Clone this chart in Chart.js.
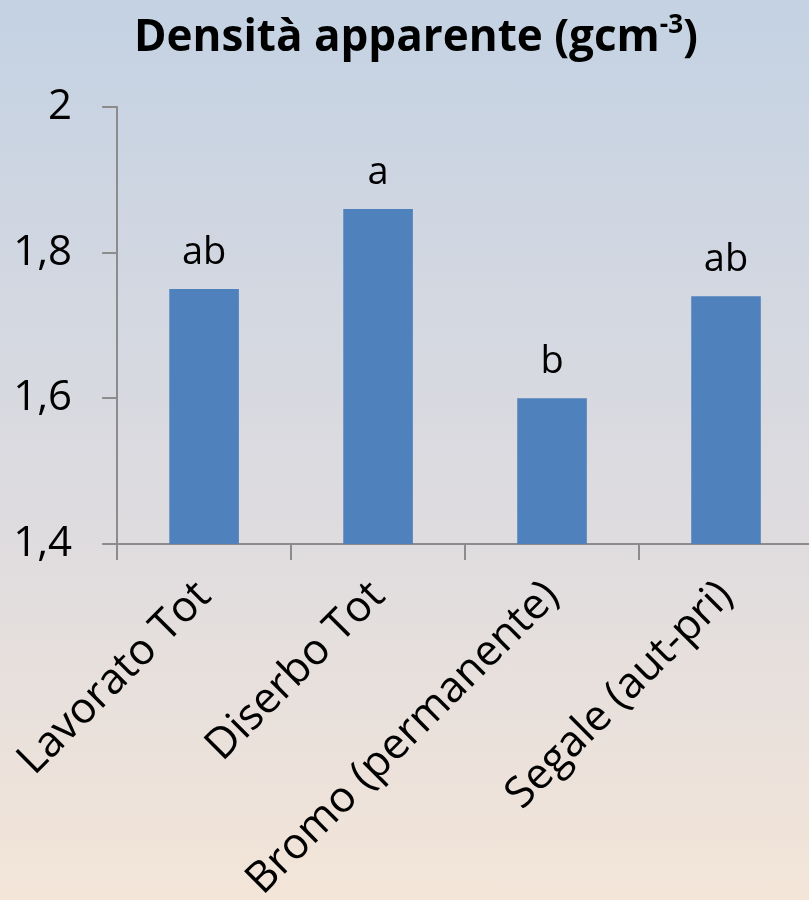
<!DOCTYPE html>
<html lang="it">
  <head>
    <meta charset="UTF-8" />
    <title>Densità apparente</title>
    <script src="https://cdn.jsdelivr.net/npm/chart.js"></script>
    <style>
      html, body { margin: 0; padding: 0; overflow: hidden; }
      body {
        width: 809px;
        height: 900px;
        background: linear-gradient(to bottom, #c4d2e3 0%, #dfdcdf 60%, #f3e5d8 100%);
        font-family: "Open Sans", sans-serif;
      }
      #wrap { position: relative; width: 813px; height: 900px; }
      #title {
        position: absolute;
        left: 0; width: 832px; top: 4px;
        text-align: center;
        font-weight: bold;
        font-size: 44px;
        color: #000;
        line-height: 60px;
      }
      #title sup { font-size: 26px; line-height: 0; vertical-align: 18px; }
    </style>
  </head>
  <body>
    <div id="wrap">
      <div id="title">Densità apparente (gcm<sup>-3</sup>)</div>
      <canvas id="myChart" width="813" height="900"></canvas>
    </div>
    <script>
      var categories = ["Lavorato Tot", "Diserbo Tot", "Bromo (permanente)", "Segale (aut-pri)"];
      var values = [1.75, 1.86, 1.6, 1.74];
      var letters = ["ab", "a", "b", "ab"];
      var yTicks = [1.4, 1.6, 1.8, 2];

      // lettere di significatività sopra le barre
      var letterPlugin = {
        id: "letters",
        afterDatasetsDraw: function (chart) {
          var ctx = chart.ctx;
          var meta = chart.getDatasetMeta(0);
          ctx.save();
          ctx.font = "38px 'Open Sans'";
          ctx.fillStyle = "#000";
          ctx.textAlign = "center";
          ctx.textBaseline = "alphabetic";
          meta.data.forEach(function (bar, i) {
            ctx.fillText(letters[i], bar.x, bar.y - 25);
          });
          ctx.restore();
        },
      };

      var ctx = document.getElementById("myChart").getContext("2d");
      var myChart = new Chart(ctx, {
        type: "bar",
        data: {
          labels: categories,
          datasets: [
            {
              data: values,
              backgroundColor: "#4f81bd",
              borderWidth: 0,
              categoryPercentage: 1,
              barPercentage: 0.4,
            },
          ],
        },
        options: {
          responsive: false,
          animation: false,
          layout: { padding: { top: 107, right: 0, left: 0, bottom: 0 } },
          plugins: {
            legend: { display: false },
            tooltip: { enabled: false },
          },
          scales: {
            y: {
              min: 1.4,
              max: 2,
              afterFit: function (scale) { scale.width = 117; },
              afterBuildTicks: function (scale) {
                scale.ticks = yTicks.map(function (v) { return { value: v }; });
              },
              ticks: {
                color: "#000",
                font: { family: "Open Sans", size: 42 },
                padding: 30,
                callback: function (v) {
                  return v === 2 ? "2" : v.toFixed(1).replace(".", ",");
                },
              },
              grid: {
                drawOnChartArea: false,
                drawTicks: true,
                tickLength: 15,
                color: "#8c8c8c",
                lineWidth: 2,
              },
              border: { color: "#8c8c8c", width: 2 },
            },
            x: {
              afterFit: function (scale) { scale.height = 356; },
              ticks: {
                color: "#000",
                font: { family: "Open Sans", size: 43 },
                minRotation: 45,
                maxRotation: 45,
                autoSkip: false,
                padding: 11,
              },
              grid: {
                offset: true,
                drawOnChartArea: false,
                drawTicks: true,
                tickLength: 16,
                color: "#8c8c8c",
                lineWidth: 2,
              },
              border: { color: "#8c8c8c", width: 2 },
            },
          },
        },
        plugins: [letterPlugin],
      });
    </script>
  </body>
</html>
